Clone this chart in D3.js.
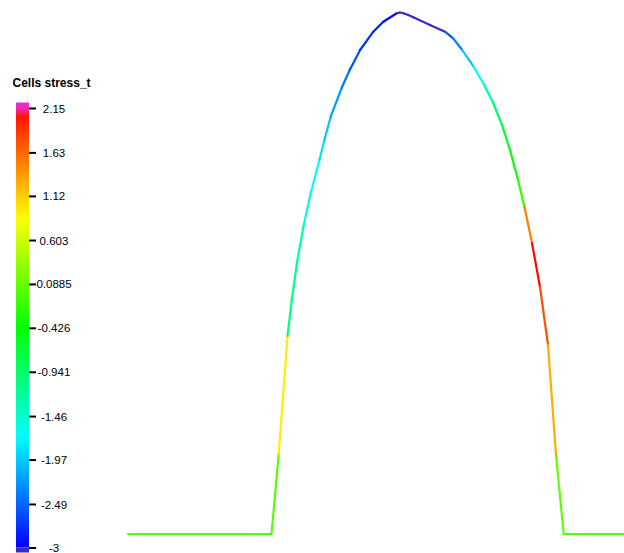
<!DOCTYPE html>
<html>
<head>
<meta charset="utf-8">
<script src="https://cdn.jsdelivr.net/npm/d3@7/dist/d3.min.js"></script>
<style>
  html, body { margin: 0; padding: 0; background: #ffffff; }
  svg { display: block; }
</style>
</head>
<body>
<svg id="view" width="624" height="553"></svg>
<script>
// Scalar range of the colour map and its tick labels
const rangeMin = -3;
const rangeMax = 2.15;
const tickLabels = ["2.15", "1.63", "1.12", "0.603", "0.0885", "-0.426", "-0.941", "-1.46", "-1.97", "-2.49", "-3"];
const tickValues = [2.15, 1.63, 1.12, 0.603, 0.0885, -0.426, -0.941, -1.46, -1.97, -2.49, -3];
const fieldTitle = "Cells stress_t";

// Mesh nodes of the profile (model units: x along the base, y height)
const nodeX = [0, 14.35, 15.07, 15.95, 16.38, 16.94, 17.54, 18.27, 19.14, 19.64, 20.27, 21.35, 22.17,
  23.21, 24.53, 25.53, 26.87, 27.2, 27.6, 28.03, 28.53, 30.2, 31.7, 32.51, 33.42, 34.56, 35.62,
  36.52, 37.4, 38.2, 39.0, 39.65, 40.4, 41.2, 42.0, 42.8, 43.57, 50.0];
const nodeY = [0, 0, 8.0, 19.8, 23.4, 27.4, 30.73, 34.07, 37.4, 39.4, 41.73, 44.57, 46.4,
  48.4, 50.23, 51.23, 52.07, 52.15, 52.05, 51.9, 51.67, 50.9, 50.23, 49.57, 48.4, 46.73, 44.9,
  43.1, 40.9, 38.4, 35.4, 32.7, 29.1, 24.7, 18.9, 7.9, 0, 0];

// Cell values of stress_t, one per line cell (between consecutive nodes)
const cellStress = [0.0, 0.02, 0.95, -1.05, -1.15, -1.3, -1.5, -1.7, -1.85, -2.0, -2.2, -2.4,
  -2.6, -2.75, -2.85, -2.93, -3.05, -3.05, -3.05, -3.05, -3.05, -3.05, -2.55, -2.35, -2.0, -1.65,
  -1.3, -0.95, -0.6, -0.35, -0.2, 1.5, 2.1, 1.75, 1.28, 0.05, 0.0];

const belowRangeColor = "#3a2ac4";
const aboveRangeColor = "#f02ac4";

const svg = d3.select("#view");

// HSV rainbow lookup table: hue 240 (blue) at the minimum to 0 (red) at the maximum
const hueScale = d3.scaleLinear().domain([rangeMin, rangeMax]).range([240, 0]);
function colorOf(v) {
  if (v < rangeMin) return belowRangeColor;
  if (v > rangeMax) return aboveRangeColor;
  return d3.hsl(hueScale(v), 1, 0.5).formatHex();
}

// ---- profile curve ----
const x = d3.scaleLinear().domain([0, 49.6]).range([128, 624]);
const y = d3.scaleLinear().domain([0, 52.2]).range([534, 12]);

const cells = cellStress.map((v, i) => ({
  x0: nodeX[i], y0: nodeY[i], x1: nodeX[i + 1], y1: nodeY[i + 1], v
}));

svg.append("g")
  .attr("class", "profile")
  .selectAll("line")
  .data(cells)
  .join("line")
  .attr("x1", d => x(d.x0))
  .attr("y1", d => y(d.y0))
  .attr("x2", d => x(d.x1))
  .attr("y2", d => y(d.y1))
  .attr("stroke", d => colorOf(d.v))
  .attr("stroke-width", 2.2)
  .attr("stroke-linecap", "round");

// ---- scalar bar ----
const barLeft = 16, barWidth = 13;
const barY = d3.scaleLinear().domain([rangeMin, rangeMax]).range([547.5, 108]);

const defs = svg.append("defs");
const grad = defs.append("linearGradient")
  .attr("id", "lut")
  .attr("x1", 0).attr("y1", 1).attr("x2", 0).attr("y2", 0);
d3.range(0, 1.0001, 0.02).forEach(t => {
  grad.append("stop")
    .attr("offset", t)
    .attr("stop-color", colorOf(rangeMin + t * (rangeMax - rangeMin)));
});

const bar = svg.append("g").attr("class", "scalar-bar");

bar.append("rect")
  .attr("x", barLeft).attr("width", barWidth)
  .attr("y", barY(rangeMax)).attr("height", barY(rangeMin) - barY(rangeMax))
  .attr("fill", "url(#lut)");

bar.append("rect")
  .attr("x", barLeft).attr("width", barWidth)
  .attr("y", barY(rangeMax) - 5.5).attr("height", 5.5)
  .attr("fill", aboveRangeColor);

bar.append("rect")
  .attr("x", barLeft).attr("width", barWidth)
  .attr("y", barY(rangeMin)).attr("height", 5)
  .attr("fill", belowRangeColor);

const axis = d3.axisRight(barY)
  .tickValues(tickValues)
  .tickFormat((d, i) => tickLabels[i])
  .tickSize(7)
  .tickPadding(0);

const axisG = bar.append("g")
  .attr("transform", `translate(${barLeft + barWidth},0)`)
  .call(axis);

axisG.select(".domain").remove();
axisG.selectAll(".tick line")
  .attr("stroke", "#000")
  .attr("stroke-width", 2);
axisG.selectAll(".tick text")
  .attr("x", 25)
  .attr("dy", "0.35em")
  .attr("text-anchor", "middle")
  .attr("fill", "#000")
  .style("font-family", "'Liberation Sans', Arial, sans-serif")
  .style("font-size", "11.5px");

bar.append("text")
  .attr("x", 12.5)
  .attr("y", 86.5)
  .attr("fill", "#000")
  .style("font-family", "'Liberation Sans', Arial, sans-serif")
  .style("font-size", "12px")
  .style("font-weight", "bold")
  .text(fieldTitle);
</script>
</body>
</html>
